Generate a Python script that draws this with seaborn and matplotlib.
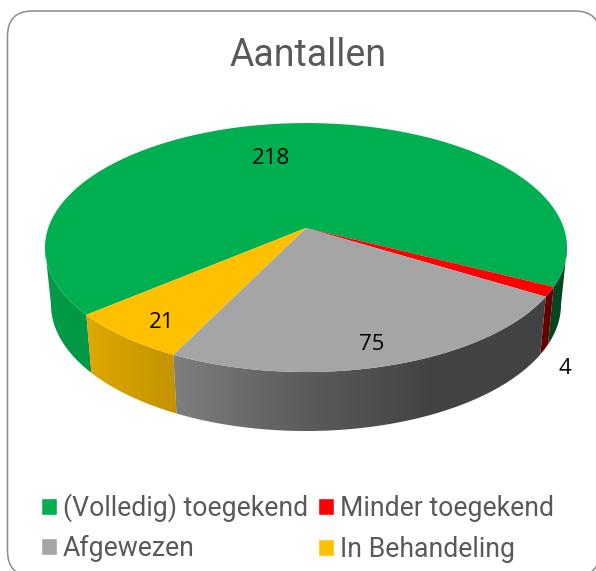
import numpy as np
import matplotlib
matplotlib.use("Agg")
import matplotlib.pyplot as plt
from matplotlib.patches import FancyBboxPatch, Patch, Polygon
import seaborn as sns

title = "Aantallen"
categories = ["(Volledig) toegekend", "Minder toegekend", "Afgewezen", "In Behandeling"]
values = [218, 4, 75, 21]
hex_colors = ["#00AF50", "#FF0000", "#A5A5A5", "#FFC000"]
label_xy = [(271, 158.5), (565, 368.5), (372, 344.5), (162, 322)]

sns.set_theme(style="white")
colors = sns.color_palette(hex_colors)

START = 230.0          # first slice angle, clockwise from the back
CX, CY = 306.0, 228.0  # projected centre
A, B, K = 121.4, 257.8, 0.157  # perspective of the disc
FRONT = [(99.0, 261.0), (459.0, 621.0)]  # part of the rim that faces the viewer


def top(theta):
    x, y = np.sin(theta), np.cos(theta)
    w = 1 + K * y
    return CX + B * x / w, CY - A * y / w


def bottom(theta):
    px, py = top(theta)
    return CX + (px - CX) * 0.977, py + 56.5 - 2.5 * np.cos(theta)


def shade(x):
    return np.interp(x, [45, 91, 177, 310, 430, 600], [.88, .87, .76, .55, .41, .40])


fig = plt.figure(figsize=(5.96, 5.71), dpi=100)
ax = fig.add_axes([0, 0, 1, 1])
ax.set_xlim(0, 596)
ax.set_ylim(571, 0)
ax.axis("off")

ax.add_patch(FancyBboxPatch((7.5 + 25, 11 + 25), 592.5 - 50, 565 - 50,
                            boxstyle="round,pad=25,rounding_size=25",
                            fc="white", ec="#8c8c8c", lw=1.1, zorder=0))

fractions = np.array(values) / sum(values)
edges = START + 360 * np.concatenate([[0], np.cumsum(fractions)])

# side walls, shaded left to right, front-facing part of each slice only
xs = np.arange(40, 580, 1.0)
for i, c in enumerate(colors):
    for lo, hi in FRONT:
        a0, a1 = max(edges[i], lo), min(edges[i + 1], hi)
        if a1 <= a0:
            continue
        ts = np.radians(np.linspace(a0, a1, 200))
        tp, bt = top(ts), bottom(ts)
        poly = np.c_[np.r_[tp[0], bt[0][::-1]], np.r_[tp[1], bt[1][::-1]]]
        base = np.array(c)[None, None, :] * shade(xs)[None, :, None]
        clip = Polygon(poly, closed=True, transform=ax.transData)
        im = ax.imshow(base, extent=(xs[0], xs[-1], 460, 100), aspect="auto",
                       interpolation="bilinear", zorder=1)
        im.set_clip_path(clip)
ax.set_xlim(0, 596)
ax.set_ylim(571, 0)

# top faces
handles = []
for i, (c, name) in enumerate(zip(colors, categories)):
    ts = np.radians(np.linspace(edges[i], edges[i + 1], 240))
    px, py = top(ts)
    ax.fill(np.r_[CX, px], np.r_[CY, py], fc=c, ec="none", zorder=2)
    handles.append(Patch(fc=c, label=name))

for v, (x, y) in zip(values, label_xy):
    ax.text(x, y, str(v), ha="center", va="center", fontsize=16,
            family="Open Sans", color="black", zorder=3)

ax.text(308, 55, title, ha="center", va="center", fontsize=27,
        family="Roboto", color="#595959", zorder=3)

leg = ax.legend(handles=[handles[0], handles[2], handles[1], handles[3]], ncol=2,
                loc="upper left", bbox_to_anchor=(35.5 / 596, 1 - 488 / 571),
                frameon=False, handlelength=0.6, handleheight=0.6, handletextpad=0.22,
                columnspacing=0.38, labelspacing=0.47, borderpad=0.2, borderaxespad=0,
                prop={"family": "Roboto", "size": 19.2}, labelcolor="#595959")
cols = leg._legend_handle_box.get_children()
cols[1].sep = cols[0].sep + 1.5

fig.savefig("out.png", dpi=100)
